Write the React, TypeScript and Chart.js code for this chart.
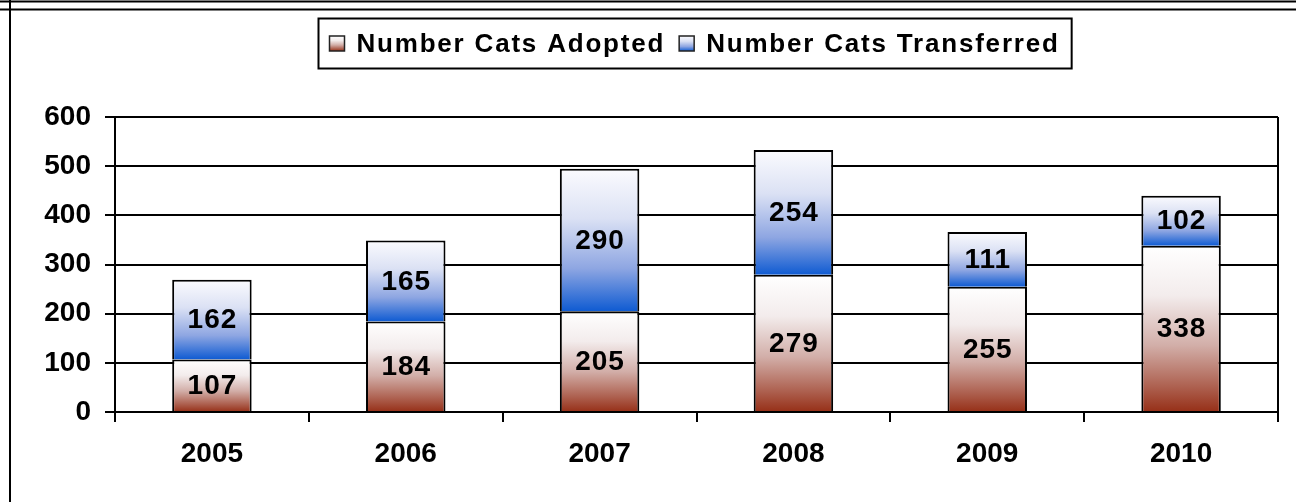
import React, { useEffect, useRef } from 'react';
import { Chart, registerables } from 'chart.js';

Chart.register(...registerables);

// ---- data ----
const years = ['2005', '2006', '2007', '2008', '2009', '2010'];
const catsAdopted = [107, 184, 205, 279, 255, 338];
const catsTransferred = [162, 165, 290, 254, 111, 102];
const seriesLabels = ['Number Cats Adopted', 'Number Cats Transferred'];
const yMin = 0;
const yMax = 600;
const yStep = 100;

const FONT = '"Liberation Sans", Arial, Helvetica, sans-serif';

const adoptedStops: [number, string][] = [
  [0, '#ffffff'],
  [0.3, '#f3ecec'],
  [0.6, '#d2aea8'],
  [0.85, '#ad604f'],
  [1, '#962f17'],
];
const transferredStops: [number, string][] = [
  [0, '#fbfbfe'],
  [0.35, '#dbe1f4'],
  [0.7, '#8ea6e2'],
  [1, '#0f5bd2'],
];

function grad(ctx: CanvasRenderingContext2D, top: number, bottom: number, stops: [number, string][]) {
  const g = ctx.createLinearGradient(0, top, 0, bottom);
  stops.forEach(([o, c]) => g.addColorStop(o, c));
  return g;
}

function segmentFill(stops: [number, string][], stacked: boolean) {
  return (c: any) => {
    const chart = c.chart;
    const { ctx, chartArea, scales } = chart;
    if (!chartArea || c.dataIndex === undefined || !scales.y) return stops[stops.length - 1][1];
    const i = c.dataIndex;
    const start = stacked ? Number(chart.data.datasets[0].data[i]) : 0;
    const end = start + Number(c.raw);
    const top = scales.y.getPixelForValue(end);
    const bottom = scales.y.getPixelForValue(start);
    return grad(ctx, top, bottom, stops);
  };
}

const framePlugin = {
  id: 'frame',
  beforeDraw(chart: any) {
    const { ctx, width, height } = chart;
    ctx.save();
    ctx.fillStyle = '#ffffff';
    ctx.fillRect(0, 0, width, height);
    ctx.strokeStyle = '#000';
    ctx.lineWidth = 2;
    ctx.beginPath();
    ctx.moveTo(0, 1.5);
    ctx.lineTo(width, 1.5);
    ctx.moveTo(0, 9.5);
    ctx.lineTo(width, 9.5);
    ctx.moveTo(10, 0);
    ctx.lineTo(10, height);
    ctx.stroke();
    ctx.restore();
  },
  afterDraw(chart: any) {
    const { ctx, chartArea } = chart;
    ctx.save();
    ctx.strokeStyle = '#000';
    ctx.lineWidth = 2;
    ctx.beginPath();
    ctx.moveTo(chartArea.right, chartArea.top);
    ctx.lineTo(chartArea.right, chartArea.bottom + 10);
    ctx.stroke();
    ctx.restore();
  },
};

const valueLabelPlugin = {
  id: 'valueLabels',
  afterDatasetsDraw(chart: any) {
    const { ctx } = chart;
    ctx.save();
    ctx.font = `bold 28px ${FONT}`;
    (ctx as any).letterSpacing = '1px';
    ctx.fillStyle = '#000';
    ctx.textAlign = 'center';
    ctx.textBaseline = 'middle';
    chart.data.datasets.forEach((ds: any, di: number) => {
      const meta = chart.getDatasetMeta(di);
      meta.data.forEach((el: any, i: number) => {
        const cy = (el.y + el.base) / 2;
        ctx.fillText(String(ds.data[i]), el.x + 0.5, cy + 1);
      });
    });
    ctx.restore();
  },
};

const boxLegendPlugin = {
  id: 'boxLegend',
  afterDraw(chart: any) {
    const { ctx, chartArea } = chart;
    ctx.save();
    ctx.font = `bold 26px ${FONT}`;
    (ctx as any).letterSpacing = '1.8px';
    const padL = 11;
    const marker = 15;
    const gap = 12;
    const itemGap = 14;
    const padR = 12;
    const widths = seriesLabels.map((t) => ctx.measureText(t).width);
    let total = padL + padR;
    widths.forEach((w, k) => {
      total += marker + gap + w + (k > 0 ? itemGap : 0);
    });
    const boxTop = 18;
    const boxH = 50;
    const cx = (chartArea.left + chartArea.right) / 2 - 2;
    const boxLeft = Math.round(cx - total / 2) + 0.5;
    ctx.fillStyle = '#fff';
    ctx.fillRect(boxLeft, boxTop, total, boxH);
    ctx.strokeStyle = '#000';
    ctx.lineWidth = 2;
    ctx.strokeRect(boxLeft, boxTop + 0.5, total, boxH);
    let x = boxLeft + padL;
    const stopsList = [adoptedStops, transferredStops];
    seriesLabels.forEach((t, k) => {
      if (k > 0) x += itemGap;
      const mTop = 36;
      ctx.fillStyle = grad(ctx, mTop, mTop + marker, stopsList[k]);
      ctx.fillRect(x, mTop, marker, marker);
      ctx.lineWidth = 1.5;
      ctx.strokeStyle = '#222';
      ctx.strokeRect(x, mTop, marker, marker);
      x += marker + gap;
      ctx.fillStyle = '#000';
      ctx.textAlign = 'left';
      ctx.textBaseline = 'alphabetic';
      ctx.fillText(t, x, 52);
      x += widths[k];
    });
    ctx.restore();
  },
};

export default function App() {
  const ref = useRef<HTMLCanvasElement | null>(null);

  useEffect(() => {
    if (!ref.current) return;
    const tickFont = { family: FONT, size: 28, weight: 'bold' as const };
    const chart = new Chart(ref.current, {
      type: 'bar',
      data: {
        labels: years,
        datasets: [
          {
            label: seriesLabels[0],
            data: catsAdopted,
            backgroundColor: segmentFill(adoptedStops, false) as any,
            borderColor: '#000',
            borderWidth: 2,
            barPercentage: 0.41,
            categoryPercentage: 1,
          },
          {
            label: seriesLabels[1],
            data: catsTransferred,
            backgroundColor: segmentFill(transferredStops, true) as any,
            borderColor: '#000',
            borderWidth: 2,
            barPercentage: 0.41,
            categoryPercentage: 1,
          },
        ],
      },
      options: {
        animation: false,
        responsive: false,
        maintainAspectRatio: false,
        devicePixelRatio: 1,
        layout: { padding: { top: 117, right: 18, bottom: 0, left: 0 } },
        plugins: {
          legend: { display: false },
          tooltip: { enabled: false },
          title: { display: false },
        },
        scales: {
          x: {
            stacked: true,
            grid: {
              display: true,
              drawOnChartArea: false,
              drawTicks: true,
              tickLength: 10,
              color: '#000',
              lineWidth: 2,
              offset: true,
            },
            border: { display: true, color: '#000', width: 2 },
            ticks: { color: '#000', font: tickFont, padding: 15, maxRotation: 0 },
            afterFit: (s: any) => {
              s.height = 90;
            },
          },
          y: {
            stacked: true,
            min: yMin,
            max: yMax,
            grid: {
              color: '#000',
              lineWidth: 2,
              drawTicks: true,
              tickLength: 10,
            },
            border: { display: true, color: '#000', width: 2 },
            ticks: { stepSize: yStep, color: '#000', font: tickFont, padding: 14 },
            afterFit: (s: any) => {
              s.width = 115;
            },
          },
        },
      },
      plugins: [framePlugin, valueLabelPlugin, boxLegendPlugin],
    });
    return () => chart.destroy();
  }, []);

  return (
    <div style={{ position: 'fixed', left: 0, top: 0, width: 1296, height: 502, background: '#fff' }}>
      <canvas ref={ref} width={1296} height={502} style={{ display: 'block', width: 1296, height: 502 }} />
    </div>
  );
}
